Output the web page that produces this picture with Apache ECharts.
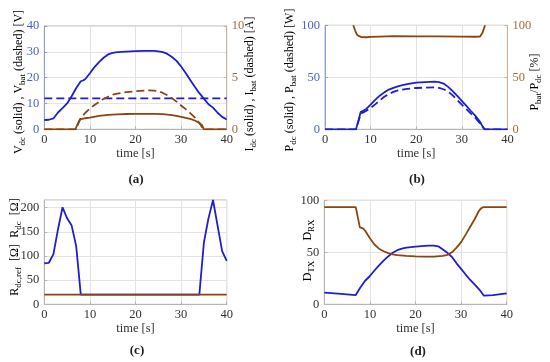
<!DOCTYPE html>
<html><head><meta charset="utf-8">
<script src="https://cdn.jsdelivr.net/npm/echarts@6/dist/echarts.min.js"></script>
<style>html,body{margin:0;padding:0;background:#fff}#c{width:550px;height:362px}</style>
</head><body><div id="c"></div>
<script>
// ---------- DATA ----------
// panel (a)
const tVdc = [0,1,2,3,4,5,6,7,8,8.5,9,10,11,12,13,14,15,16,18,20,22,24,25,26,27,28,29,30,31,32,33,34,35,36,37,38,39,40];
const Vdc  = [3.6,3.7,4.2,6.5,8.2,10,12.8,16,18.6,18.9,19.5,21.7,24.1,26,27.7,29,29.6,29.9,30.1,30.3,30.4,30.4,30.2,29.9,29.2,28,26.5,24.3,21.8,19.1,16.5,14,11.9,9.7,8.4,6.4,4.8,3.8];
const tVbat = [0,10,20,30,40];
const Vbat  = [12,12,12,12,12];
const tIdc = [0,6.8,7.3,7.8,8,9,10,12,14,16,18,20,22,24,26,27,28,29,30,31,32,33,34,34.6,35,40];
const Idc  = [0,0,0.5,0.95,1.0,1.07,1.13,1.3,1.4,1.45,1.48,1.5,1.5,1.5,1.47,1.43,1.37,1.3,1.2,1.1,1.0,0.85,0.62,0.4,0,0];
const tIbat = [0,7,7.5,8,9,10,11,12,13,14,15,16,18,20,22,23,24,25,26,27,28,29,30,31,32,33,34,34.6,35,40];
const Ibat  = [0,0,0.6,1.1,1.6,2.0,2.35,2.65,2.95,3.15,3.35,3.45,3.6,3.68,3.75,3.77,3.75,3.68,3.52,3.3,3.0,2.68,2.3,1.95,1.57,1.15,0.6,0.2,0,0];
// panel (b)
const tPdc = [0,6.8,7,7.5,7.8,8,9,10,11,12,13,14,15,16,17,18,20,22,24,25,26,27,28,29,30,31,32,33,34,34.5,35,40];
const Pdc  = [0,0,1.5,11,16.5,17.2,19.3,23.8,28.3,32.3,35.5,38.2,39.9,41.3,42.4,43.4,44.8,45.4,45.8,45.4,44,40.8,36.7,32.1,27.4,22.5,17.6,12.9,7.3,3.2,0,0];
const tPbat = [0,6.8,7,7.5,7.8,8,8.5,9,10,11,12,13,14,15,16,17,18,20,22,24,25,26,27,28,29,30,31,32,33,34,34.5,35,40];
const Pbat  = [0,0,1.3,10,15,15.5,16.5,17.6,20.5,24,27.6,31.3,34,36,37.4,38.2,38.8,39.7,40.1,40.3,39.8,38.5,36.3,32.6,28.2,23.7,19.4,15.1,10.9,5.5,2.5,0,0];
const tRatio = [6.2,6.6,7,7.5,8,9,10,12,15,20,25,30,33,34,34.5,35.1];
const Ratio  = [100,95,91,89.5,88.7,88.5,88.8,89.2,89.5,89.3,89.3,89.2,89,89.2,92.5,100];
// panel (c)
const tR = [0,1,2,3,4,5,6,7,8,9,10,11,12,13,14,15,16,17,18,19,20,21,22,23,24,25,26,27,28,29,30,31,32,33,34,35,36,37,38,39,40];
const Rdc = [85,86,104,155,201,178,163,120,20,20,20,20,20,20,20,20,20,20,20,20,20,20,20,20,20,20,20,20,20,20,20,20,20,20,20,128,178,216,163,110,90];
const tRref = [0,10,20,30,40];
const Rref  = [20,20,20,20,20];
// panel (d)
const tDrx = [0,6.9,7.8,8.5,9,10,11,12,13,14,15,16,18,20,22,24,26,27,28,29,30,31,32,33,33.8,34.3,34.9,40];
const Drx  = [93.5,93.5,74,73,70.5,63.5,57.5,53.5,51,49.2,48,47.3,46.6,46.1,45.8,45.8,46.5,47.5,50,54.5,59.8,67,74.5,82,89,92,93.5,93.5];
const tDtx = [0,3,6.9,7.8,8.9,10,11,12,13,14,15,16,17,18,20,22,23,24,25,26,27,28,29,30,31,32,33,34,35,37,40];
const Dtx  = [11.2,10.2,8.9,15.4,22.4,27.2,32.5,37.5,42,46,49.5,52,53.5,54.4,55.5,56.2,56.5,56.4,55.8,52.7,49.5,45.5,39.4,34,28.6,23.4,19,14.2,8.3,8.9,10.6];

const xTicks = [0,10,20,30,40];

// ---------- STYLE ----------
const FONT = 'Liberation Serif';
const BLUE = '#1e1ed2';
const BROWN = '#8b4513';
const BLUE_TXT = '#2a2ac8';
const BROWN_TXT = '#a0462d';
const BLUE_TICK = '#4a66c4';
const BROWN_TICK = '#9a7040';
const GRIDC = '#e3e3e3';
const BORDER = '#b5b5b5';

const pair = (t, v) => t.map((x, i) => [x, v[i]]);

const grids = [
  {left: 44.3, top: 26, width: 182.4, height: 103.3},
  {left: 325, top: 25.3, width: 182.4, height: 104},
  {left: 44.3, top: 200, width: 182.4, height: 104.3},
  {left: 324.3, top: 200.3, width: 182.4, height: 104}
].map(g => Object.assign({show: true, borderColor: BORDER, borderWidth: 1, containLabel: false}, g));

const xAxes = grids.map((g, i) => ({
  gridIndex: i, type: 'value', min: 0, max: 40, interval: 10,
  name: 'time [s]', nameLocation: 'middle', nameGap: 18,
  nameTextStyle: {fontFamily: FONT, fontSize: 12.5, color: '#333'},
  axisLine: {show: true, lineStyle: {color: BORDER}},
  axisTick: {show: true, inside: true, length: 3, lineStyle: {color: BORDER}},
  axisLabel: {fontFamily: FONT, fontSize: 12.5, color: '#333', margin: 4},
  splitLine: {show: true, lineStyle: {color: GRIDC}}
}));

function yAx(grid, min, max, interval, pos, tickColor, lineColor, split) {
  return {
    gridIndex: grid, type: 'value', min, max, interval, position: pos,
    axisLine: {show: true, lineStyle: {color: lineColor}},
    axisTick: {show: true, inside: true, length: 3, lineStyle: {color: lineColor}},
    axisLabel: {fontFamily: FONT, fontSize: 12.5, color: tickColor, margin: 5, showMaxLabel: max % interval === 0},
    splitLine: {show: split, lineStyle: {color: GRIDC}}
  };
}
const yAxes = [
  yAx(0, 0, 40, 10, 'left', BLUE_TICK, '#8aa0dc', true),
  yAx(0, 0, 10, 5, 'right', BROWN_TICK, '#d0b090', false),
  yAx(1, 0, 100, 50, 'left', BLUE_TICK, '#8aa0dc', true),
  yAx(1, 0, 100, 50, 'right', BROWN_TICK, '#d0b090', false),
  yAx(2, 0, 216, 50, 'left', '#333', BORDER, true),
  yAx(3, 0, 100, 50, 'left', '#333', BORDER, true)
];

function line(xi, yi, data, color, dashed, z) {
  return {
    type: 'line', xAxisIndex: xi, yAxisIndex: yi, data, showSymbol: false, symbol: 'none',
    smooth: false, animation: false, z: z || 2, clip: true,
    lineStyle: {color, width: 1.8, type: dashed ? [8, 4] : 'solid'}
  };
}

const series = [
  line(0, 0, pair(tVbat, Vbat), BLUE, true),
  line(0, 0, pair(tVdc, Vdc), BLUE, false),
  line(0, 1, pair(tIbat, Ibat), BROWN, true),
  line(0, 1, pair(tIdc, Idc), BROWN, false, 3),
  line(1, 2, pair(tPbat, Pbat), BLUE, true),
  line(1, 2, pair(tPdc, Pdc), BLUE, false),
  line(1, 3, pair(tRatio, Ratio), BROWN, false),
  line(2, 4, pair(tR, Rdc), BLUE, false),
  line(2, 4, pair(tRref, Rref), BROWN, false, 3),
  line(3, 5, pair(tDtx, Dtx), BLUE, false),
  line(3, 5, pair(tDrx, Drx), BROWN, false)
];

function rich(color) {
  return {
    m: {fontFamily: FONT, fontSize: 12, color, lineHeight: 16},
    s: {fontFamily: FONT, fontSize: 9, color, lineHeight: 6, verticalAlign: 'bottom'}
  };
}
function vText(x, y, text, color) {
  return {type: 'text', x, y, rotation: Math.PI / 2, silent: true,
    style: {text, rich: rich(color), align: 'center', verticalAlign: 'middle'}};
}
function label(x, y, text) {
  return {type: 'text', x, y, silent: true,
    style: {text, fontFamily: FONT, fontSize: 13, fontWeight: 'bold', fill: '#222', align: 'center', verticalAlign: 'middle'}};
}

const graphics = [
  vText(19, 82, '{m|V}{s|dc}{m| (solid) , V}{s|bat}{m| (dashed) [V]}', BLUE_TXT),
  vText(250, 84, '{m|I}{s|dc}{m| (solid) , I}{s|bat}{m| (dashed) [A]}', BROWN_TXT),
  vText(290, 80, '{m|P}{s|dc}{m| (solid) , P}{s|bat}{m| (dashed) [W]}', BLUE_TXT),
  vText(535, 82, '{m|P}{s|bat}{m|/P}{s|dc}{m| [%]}', BROWN_TXT),
  vText(15, 218, '{m|R}{s|dc}{m|  [Ω]}', BLUE_TXT),
  vText(15, 270, '{m|R}{s|dc,ref}{m|  [Ω]}', BROWN_TXT),
  vText(308, 230, '{m|D}{s|RX}', BROWN_TXT),
  vText(308, 271, '{m|D}{s|TX}', BLUE_TXT),
  label(136, 180, '(a)'),
  label(417, 180, '(b)'),
  label(137, 351, '(c)'),
  label(418, 352, '(d)')
];

const chart = echarts.init(document.getElementById('c'), null, {renderer: 'canvas'});
chart.setOption({
  animation: false,
  backgroundColor: '#fff',
  grid: grids, xAxis: xAxes, yAxis: yAxes, series, graphic: graphics
});
</script></body></html>
